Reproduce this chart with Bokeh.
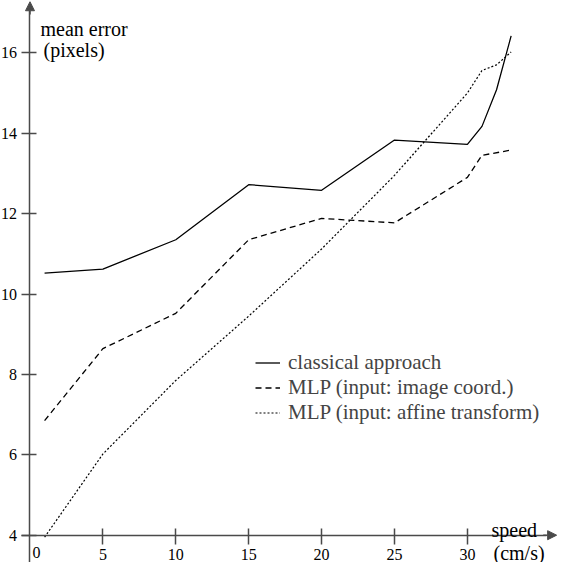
from bokeh.plotting import figure
from bokeh.models import (LinearAxis, FixedTicker, Range1d, Label, Legend, LegendItem,
                          Arrow, NormalHead)
from bokeh.embed import file_html
from bokeh.resources import INLINE

# ---- data ----
speed_classical = [1, 5, 10, 15, 20, 25, 30, 31, 32, 33]
err_classical = [10.52, 10.62, 11.35, 12.72, 12.58, 13.83, 13.72, 14.17, 15.08, 16.42]

speed_image = [1, 5, 10, 15, 20, 25, 30, 31, 33]
err_image = [6.85, 8.64, 9.52, 11.35, 11.88, 11.77, 12.90, 13.45, 13.58]

speed_affine = [1, 5, 10, 15, 20, 25, 30, 31, 32, 33]
err_affine = [3.95, 6.02, 7.85, 9.45, 11.12, 12.95, 15.00, 15.56, 15.70, 16.02]

x_ticks = [5, 10, 15, 20, 25, 30]
y_ticks = [4, 6, 8, 10, 12, 14, 16]
series_labels = ["classical approach", "MLP (input: image coord.)",
                 "MLP (input: affine transform)"]

FONT = "Liberation Serif"
AXC = "#4a4a4a"

W, H = 557, 562
p = figure(width=W, height=H, output_backend="svg", toolbar_location=None,
           x_range=Range1d(-2.0233, 36.18), y_range=Range1d(3.3209, 17.301),
           x_axis_location=None, y_axis_location=None, min_border=0, tools="")
p.outline_line_color = None
p.grid.visible = False
p.background_fill_color = "white"

xaxis = LinearAxis(fixed_location=4, ticker=FixedTicker(ticks=x_ticks), bounds=(-0.6, 35.4),
                   axis_line_color=AXC, axis_line_width=1.5,
                   major_tick_line_color=AXC, major_tick_line_width=1.5,
                   major_tick_in=7, major_tick_out=9, minor_tick_line_color=None,
                   major_label_text_font=FONT, major_label_text_font_size="16px",
                   major_label_standoff=5, major_label_text_color="black")
p.add_layout(xaxis, "below")

yaxis = LinearAxis(fixed_location=0, ticker=FixedTicker(ticks=y_ticks), bounds=(3.33, 17.05),
                   axis_line_color=AXC, axis_line_width=1.5,
                   major_tick_line_color=AXC, major_tick_line_width=1.5,
                   major_tick_in=7, major_tick_out=8, minor_tick_line_color=None,
                   major_label_text_font=FONT, major_label_text_font_size="16px",
                   major_label_standoff=5, major_label_text_color="black")
p.add_layout(yaxis, "left")

p.add_layout(Arrow(end=NormalHead(size=9, fill_color=AXC, line_color=AXC, line_width=1),
                   x_start=0, y_start=16.95, x_end=0, y_end=17.27,
                   line_color=AXC, line_width=1.5))
p.add_layout(Arrow(end=NormalHead(size=9, fill_color=AXC, line_color=AXC, line_width=1),
                   x_start=35.2, y_start=4, x_end=36.12, y_end=4,
                   line_color=AXC, line_width=1.5))

r1 = p.line(speed_classical, err_classical, line_color="black", line_width=1.3)
r2 = p.line(speed_image, err_image, line_color="black", line_width=1.3, line_dash="6 4")
r3 = p.line(speed_affine, err_affine, line_color="black", line_width=1.2, line_dash="2 2")

def lab(text, x, y, size="20px", align="left"):
    p.add_layout(Label(x=x, y=y, x_units="screen", y_units="screen", text=text,
                       text_font=FONT, text_font_size=size, text_align=align,
                       text_baseline="alphabetic", text_color="black"))

lab("mean error", 40, 534)
lab("(pixels)", 43, 513)
lab("speed", 491, 33)
lab("(cm/s)", 493, 10)
lab("0", 32, 10, size="16px")

legend = Legend(items=[LegendItem(label=name, renderers=[rend])
                       for name, rend in zip(series_labels, [r1, r2, r3])],
                location=(255, 137), glyph_width=25, glyph_height=21, label_height=21,
                label_standoff=8, padding=0, margin=0, spacing=0,
                label_text_font=FONT, label_text_font_size="21px",
                background_fill_alpha=0, border_line_color=None)
p.add_layout(legend, "center")

open("out.html", "w").write(file_html(p, INLINE))
